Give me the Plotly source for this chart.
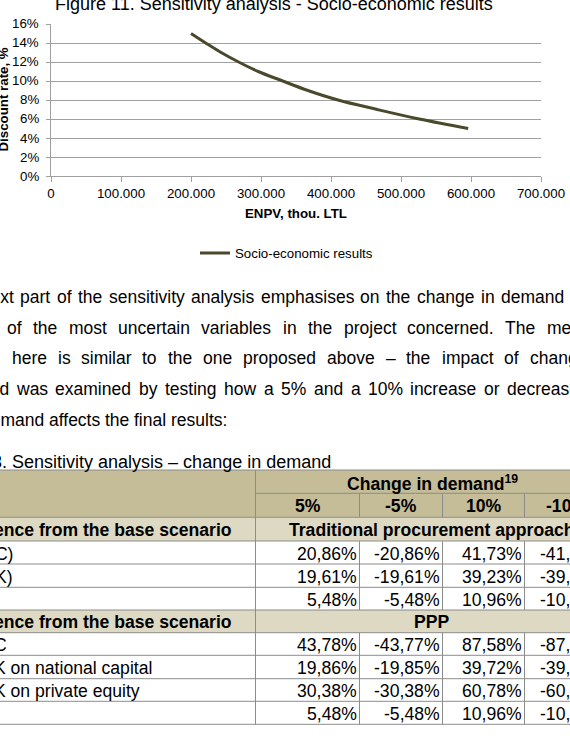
import plotly.graph_objects as go

W, H = 570, 743
FONT = "Liberation Sans, Arial, sans-serif"

# ---------------- chart data ----------------
chart_title = "Figure 11. Sensitivity analysis - Socio-economic results"
series_name = "Socio-economic results"
x_title = "ENPV, thou. LTL"
y_title = "Discount rate, %"
enpv_thou_ltl = [200000, 221000, 243000, 268000, 296000, 331000, 367000, 410000, 466000, 526000, 596000]
discount_rate = [0.15, 0.14, 0.13, 0.12, 0.11, 0.10, 0.09, 0.08, 0.07, 0.06, 0.05]
x_ticks = [0, 100000, 200000, 300000, 400000, 500000, 600000, 700000]
x_tick_labels = ["0", "100.000", "200.000", "300.000", "400.000", "500.000", "600.000", "700.000"]
y_ticks = [0, 0.02, 0.04, 0.06, 0.08, 0.10, 0.12, 0.14, 0.16]
y_tick_labels = ["0%", "2%", "4%", "6%", "8%", "10%", "12%", "14%", "16%"]

# ---------------- paragraph text ----------------
para_lines = [
    ["Next", "part", "of", "the", "sensitivity", "analysis", "emphasises", "on", "the", "change", "in", "demand"],
    ["of", "the", "most", "uncertain", "variables", "in", "the", "project", "concerned.", "The", "methodology"],
    ["here", "is", "similar", "to", "the", "one", "proposed", "above", "–", "the", "impact", "of", "change"],
    ["and", "was", "examined", "by", "testing", "how", "a", "5%", "and", "a", "10%", "increase", "or", "decrease"],
    ["demand", "affects", "the", "final", "results:"],
]

# ---------------- table data ----------------
table_title = "Table 3. Sensitivity analysis – change in demand"
group_header = "Change in demand"
footnote_mark = "19"
demand_changes = ["5%", "-5%", "10%", "-10%"]
section_label = "Difference from the base scenario"
sections = ["Traditional procurement approach", "PPP"]
trad_labels = ["FRR (C)", "FRR (K)", "ERR"]
trad_values = [[20.86, -20.86, 41.73, -41.73],
               [19.61, -19.61, 39.23, -39.23],
               [5.48, -5.48, 10.96, -10.96]]
ppp_labels = ["FRR, C", "FRR, K on national capital", "FRR, K on private equity", "ERR"]
ppp_values = [[43.78, -43.77, 87.58, -87.57],
              [19.86, -19.85, 39.72, -39.71],
              [30.38, -30.38, 60.78, -60.78],
              [5.48, -5.48, 10.96, -10.96]]

# ---------------- layout helpers ----------------
REG = {' ': 278, '%': 889, ',': 278, '-': 333, '.': 278, ':': 278, '–': 556, '(': 333, ')': 333, '/': 278,
       'a': 556, 'b': 556, 'c': 500, 'd': 556, 'e': 556, 'f': 278, 'g': 556, 'h': 556, 'i': 222, 'j': 222,
       'k': 500, 'l': 222, 'm': 833, 'n': 556, 'o': 556, 'p': 556, 'q': 556, 'r': 333, 's': 500, 't': 278,
       'u': 556, 'v': 500, 'w': 722, 'x': 500, 'y': 500, 'z': 500,
       'A': 667, 'B': 667, 'C': 722, 'D': 722, 'E': 667, 'F': 611, 'G': 778, 'H': 722, 'I': 278, 'K': 667,
       'L': 556, 'M': 833, 'N': 722, 'O': 778, 'P': 667, 'R': 722, 'S': 667, 'T': 611, 'V': 667}


def tw(s, size):
    return sum(REG.get(c, 556) for c in s) * size / 1000.0


def px(x):
    return x / W


def py(y):
    return 1 - y / H


def ann(text, x, y, size, xanchor="left", color="#000000", angle=0):
    return dict(text=text, x=px(x), y=py(y), xref="paper", yref="paper", xanchor=xanchor,
                yanchor="middle", showarrow=False, borderpad=0, borderwidth=0, textangle=angle,
                font=dict(family=FONT, size=size, color=color))


annotations = []
shapes = []

# chart geometry (pixels)
PL, PR, PT, PB = 51, 541, 24, 176
TICK_FONT = dict(family=FONT, size=13.3, color="#000000")

fig = go.Figure()
fig.add_trace(go.Scatter(
    x=enpv_thou_ltl[::-1], y=discount_rate[::-1], mode="lines", name=series_name,
    line=dict(color="#4a492c", width=3, shape="spline", smoothing=1.0),
    hoverinfo="skip"))

annotations.append(ann(chart_title, 274, 3.5, 18, xanchor="center"))
annotations.append(ann("<b>" + y_title + "</b>", 2.5, 100, 13.3, xanchor="center", angle=-90))
annotations.append(ann("<b>" + x_title + "</b>", 296, 213.3, 13.3, xanchor="center"))

# y tick labels placed on the y axis scale
for val, lab in zip(y_ticks, y_tick_labels):
    annotations.append(dict(text=lab, x=px(39.5), y=val, xref="paper", yref="y", xanchor="right",
                            yanchor="middle", showarrow=False, borderpad=0, borderwidth=0,
                            font=TICK_FONT))

# ---------------- paragraph ----------------
PS = 17.5
para_y0, para_dy = 296.7, 30.8
para_layout = [(1, 20.0, 6.5), (0, 7.0, 11.4), (0, 11.6, 10.9), (1, 16.4, 7.6), (0, -19.5, None)]
for li, words in enumerate(para_lines):
    anchor, ax, gap = para_layout[li]
    if gap is None:
        gap = tw(" ", PS)
    xs = [0.0] * len(words)
    xs[anchor] = ax
    for i in range(anchor + 1, len(words)):
        xs[i] = xs[i - 1] + tw(words[i - 1], PS) + gap
    for i in range(anchor - 1, -1, -1):
        xs[i] = xs[i + 1] - gap - tw(words[i], PS)
    yy = para_y0 + li * para_dy
    for w, x in zip(words, xs):
        annotations.append(ann(w, x, yy, PS))

# ---------------- table ----------------
TS = 17.6
TTS = 18
title_x = 14.0 - tw("Table 3. ", TTS)
annotations.append(ann(table_title, title_x, 461.7, TTS))

row_edges = [470, 493.3, 517.3, 541, 564, 587.3, 610, 632.7, 655.3, 678.7, 701.3, 724.3]
col_edges = [-80, 255.5, 359.5, 442.5, 524.5, 608]
LBL_X = -51.6
TAN, LIGHT, GRID = "#c4bd97", "#ddd9c3", "#8c8c8c"

# fills
shapes.append(dict(type="rect", xref="paper", yref="paper", x0=px(col_edges[0]), x1=px(col_edges[-1]),
                   y0=py(row_edges[0]), y1=py(row_edges[2]), fillcolor=TAN, line=dict(width=0), layer="below"))
for r in (2, 6):
    shapes.append(dict(type="rect", xref="paper", yref="paper", x0=px(col_edges[0]), x1=px(col_edges[-1]),
                       y0=py(row_edges[r]), y1=py(row_edges[r + 1]), fillcolor=LIGHT, line=dict(width=0),
                       layer="below"))


def hline(y, x0, x1):
    shapes.append(dict(type="line", xref="paper", yref="paper", x0=px(x0), x1=px(x1), y0=py(y), y1=py(y),
                       line=dict(color=GRID, width=1)))


def vline(x, y0, y1):
    shapes.append(dict(type="line", xref="paper", yref="paper", x0=px(x), x1=px(x), y0=py(y0), y1=py(y1),
                       line=dict(color=GRID, width=1)))


for i, y in enumerate(row_edges):
    if i == 1:
        hline(y, col_edges[1], col_edges[-1])
    else:
        hline(y, col_edges[0], col_edges[-1])
vline(col_edges[1], row_edges[0], row_edges[-1])
section_rows = {2, 6}
for r in range(len(row_edges) - 1):
    if r == 0 or r in section_rows:
        continue
    for c in (2, 3, 4):
        vline(col_edges[c], row_edges[r], row_edges[r + 1])


def rc(r):
    return (row_edges[r] + row_edges[r + 1]) / 2 + 1


data_mid = (col_edges[1] + col_edges[-1]) / 2
annotations.append(ann("<b>" + group_header + "<sup>" + footnote_mark + "</sup></b>", data_mid + 1, rc(0), TS,
                       xanchor="center"))
for c, lab in enumerate(demand_changes):
    annotations.append(ann("<b>" + lab + "</b>", (col_edges[c + 1] + col_edges[c + 2]) / 2, rc(1), TS,
                           xanchor="center"))


def fmt(v):
    return ("%.2f" % v).replace(".", ",") + "%"


blocks = [(2, sections[0], trad_labels, trad_values), (6, sections[1], ppp_labels, ppp_values)]
for start, sec, labels, values in blocks:
    annotations.append(ann("<b>" + section_label + "</b>", LBL_X, rc(start), TS))
    annotations.append(ann("<b>" + sec + "</b>", data_mid, rc(start), TS, xanchor="center"))
    for k, (lab, vals) in enumerate(zip(labels, values)):
        r = start + 1 + k
        annotations.append(ann(lab, LBL_X, rc(r), TS))
        for c, v in enumerate(vals):
            annotations.append(ann(fmt(v), col_edges[c + 2] - 2.5, rc(r), TS, xanchor="right"))

fig.update_layout(
    width=W, height=H, margin=dict(l=0, r=0, t=0, b=0), template="none",
    paper_bgcolor="white", plot_bgcolor="white",
    font=dict(family=FONT, size=13.3, color="#000000"),
    showlegend=True,
    legend=dict(orientation="h", x=px(195), y=py(253.3), xanchor="left", yanchor="middle",
                bgcolor="rgba(0,0,0,0)", borderwidth=0, font=dict(family=FONT, size=13.3, color="#000000")),
    xaxis=dict(domain=[px(PL), px(PR)], range=[0, 700000], tickmode="array", tickvals=x_ticks,
               ticktext=x_tick_labels, showgrid=False, zeroline=False, showline=True, linecolor="#a0a0a0",
               linewidth=1, ticks="outside", ticklen=5, tickcolor="#a0a0a0", tickfont=TICK_FONT,
               automargin=False),
    yaxis=dict(domain=[py(PB), py(PT)], range=[0, 0.16], tickmode="array", tickvals=y_ticks,
               showticklabels=False, showgrid=True, gridcolor="#a0a0a0", gridwidth=1, zeroline=False,
               showline=True, linecolor="#a0a0a0", linewidth=1, ticks="outside", ticklen=4,
               tickcolor="#a0a0a0", automargin=False),
    annotations=annotations, shapes=shapes,
)

fig.write_html("out.html")
